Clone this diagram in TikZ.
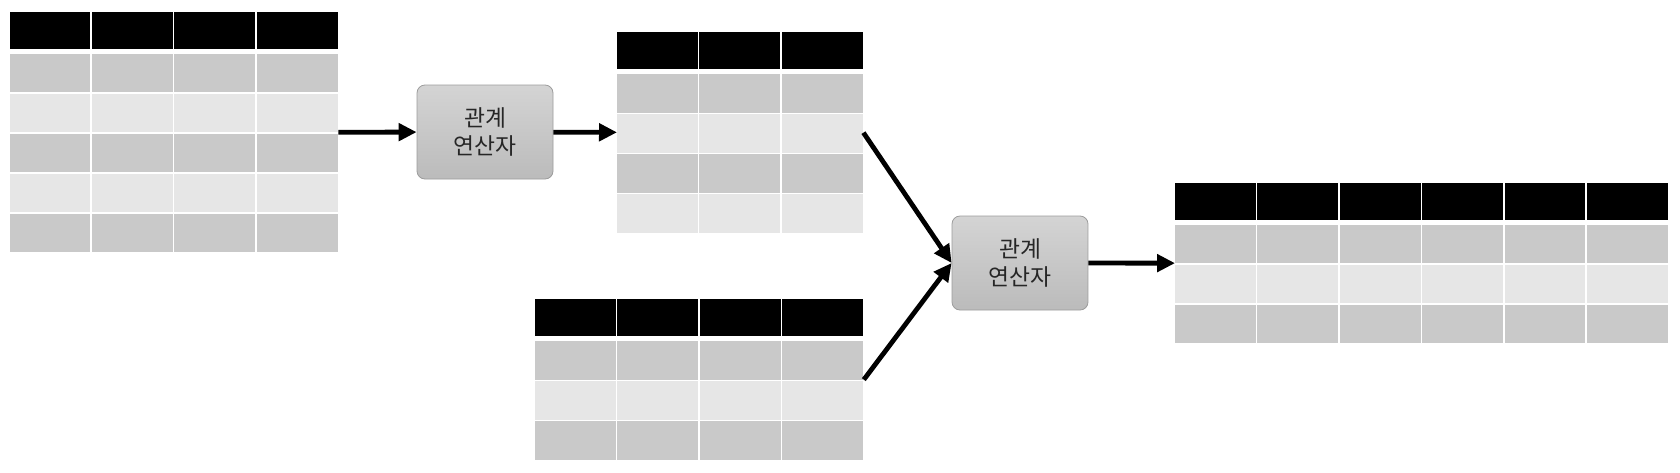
\documentclass[tikz,border=0pt]{standalone}
\usepackage{fontspec}
\newfontfamily\kofont{Noto Sans CJK KR}
\usepackage{tikz}
\usetikzlibrary{arrows.meta,calc,positioning}
\definecolor{rowdark}{HTML}{C9C9C9}
\definecolor{rowlight}{HTML}{E6E6E6}
\definecolor{opedge}{HTML}{9C9C9C}
\definecolor{optop}{HTML}{D4D4D4}
\definecolor{opbottom}{HTML}{BBBBBB}
\tikzset{
  opbox/.style={draw=opedge, rounded corners=4pt, top color=optop, bottom color=opbottom,
    minimum width=68pt, minimum height=47pt, inner sep=0pt, align=center,
    font=\kofont\fontsize{11.4}{14}\selectfont, text=black!85},
  flow/.style={line width=2.4pt, -{Triangle[length=9pt,width=8.6pt]}},
}
% table: name, x, y (top left), columns, data rows
\newcommand{\reltable}[5]{%
  \foreach \c in {1,...,#4}{%
    \fill[black] ({#2+82.4*(\c-1)},#3) rectangle +(80.8,37);
    \foreach \r in {1,...,#5}{%
      \ifodd\r\def\shade{rowdark}\else\def\shade{rowlight}\fi
      \fill[\shade] ({#2+82.4*(\c-1)},{#3+42+40*(\r-1)}) rectangle +(80.8,38.5);
    }
  }
  \pgfmathsetmacro\tw{(82.4*(#4-1)+80.8)*0.5}
  \pgfmathsetmacro\th{(42+40*(#5-1)+38.5)*0.5}
  \node[anchor=north west, inner sep=0pt, minimum width=\tw pt, minimum height=\th pt] (#1) at (#2,#3) {};
}

\begin{document}
\begin{tikzpicture}[x=0.5pt, y=-0.5pt]
		\useasboundingbox[fill=white] (0,0) rectangle (1680,472);
		% input tables
		\reltable{rel1}{9.6}{11.8}{4}{5}
		\reltable{rel2}{617}{32}{3}{4}
		\reltable{rel3}{535}{299}{4}{3}
		% result table
		\reltable{res}{1175}{182.7}{6}{3}
		\node[opbox] (op1) at (485,132) {관계\\연산자};
		\node[opbox] (op2) at (1020,263) {관계\\연산자};
		\draw[flow] (rel1) to (op1);
		\draw[flow] (op1) to (rel2);
		\draw[flow] (rel2.east) to (op2.west);
		\draw[flow] (rel3.east) to (op2.west);
		\draw[flow] (op2) to (res);
	\end{tikzpicture}
\end{document}
